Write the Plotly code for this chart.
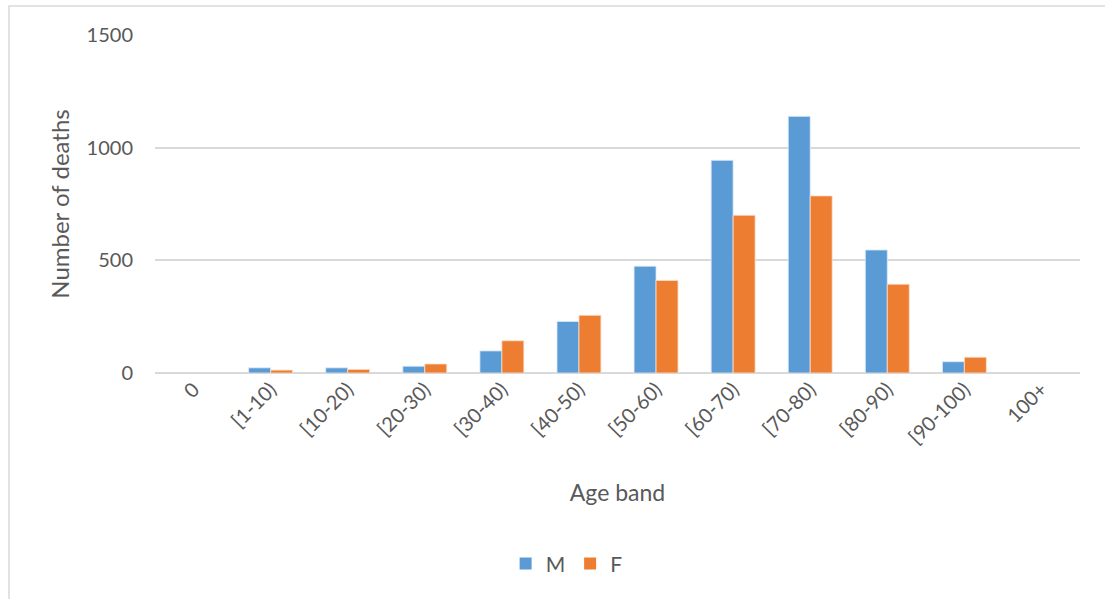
import plotly.graph_objects as go

age_bands = ["0", "[1-10)", "[10-20)", "[20-30)", "[30-40)", "[40-50)",
             "[50-60)", "[60-70)", "[70-80)", "[80-90)", "[90-100)", "100+"]
deaths_m = [0, 23, 23, 30, 98, 229, 474, 944, 1139, 546, 50, 0]
deaths_f = [0, 13, 16, 40, 143, 256, 411, 700, 786, 394, 70, 0]
y_ticks = [0, 500, 1000, 1500]

FONT = "Lato, Calibri, Carlito, sans-serif"
GREY = "#595959"


def outline_widths(values):
    # no outline on empty bars so nothing shows at zero
    return [0.8 if v > 0 else 0 for v in values]


fig = go.Figure()
fig.add_trace(go.Bar(x=age_bands, y=deaths_m, name="M",
                     marker=dict(color="#5B9BD5",
                                 line=dict(color="#DCEBF7", width=outline_widths(deaths_m)))))
fig.add_trace(go.Bar(x=age_bands, y=deaths_f, name="F",
                     marker=dict(color="#ED7D31",
                                 line=dict(color="#FBE0CD", width=outline_widths(deaths_f)))))

fig.update_layout(
    width=1105, height=599,
    margin=dict(l=155, r=25, t=35, b=226, autoexpand=False),
    paper_bgcolor="white", plot_bgcolor="white",
    barmode="group", bargap=0.43, bargroupgap=0,
    font=dict(family=FONT, color=GREY, size=20),
    legend=dict(orientation="h", x=0.445, xanchor="center", y=-0.565, yanchor="middle",
                font=dict(size=21, color=GREY), itemwidth=30, traceorder="normal"),
    xaxis=dict(tickangle=-45, tickfont=dict(size=20, color=GREY),
               showline=False, showgrid=False, ticks="",
               title=dict(text="Age band", font=dict(size=23, color=GREY), standoff=37)),
    yaxis=dict(range=[0, 1500], tickvals=y_ticks, ticktext=[str(v) for v in y_ticks],
               showgrid=True, gridcolor="#D9D9D9", gridwidth=1.5,
               zeroline=True, zerolinecolor="#D9D9D9", zerolinewidth=2,
               showline=False, ticks="", ticklabelstandoff=21,
               tickfont=dict(size=20, color=GREY),
               title=dict(text="Number of deaths", font=dict(size=24, color=GREY), standoff=10)),
    shapes=[dict(type="rect", xref="paper", yref="paper",
                 x0=(9 - 155) / 925, x1=(1130 - 155) / 925,
                 y0=(373 - 620) / 338, y1=(373 - 6) / 338,
                 line=dict(color="#D9D9D9", width=1.5), fillcolor="rgba(0,0,0,0)",
                 layer="below")],
)

fig.write_html("out.html")
